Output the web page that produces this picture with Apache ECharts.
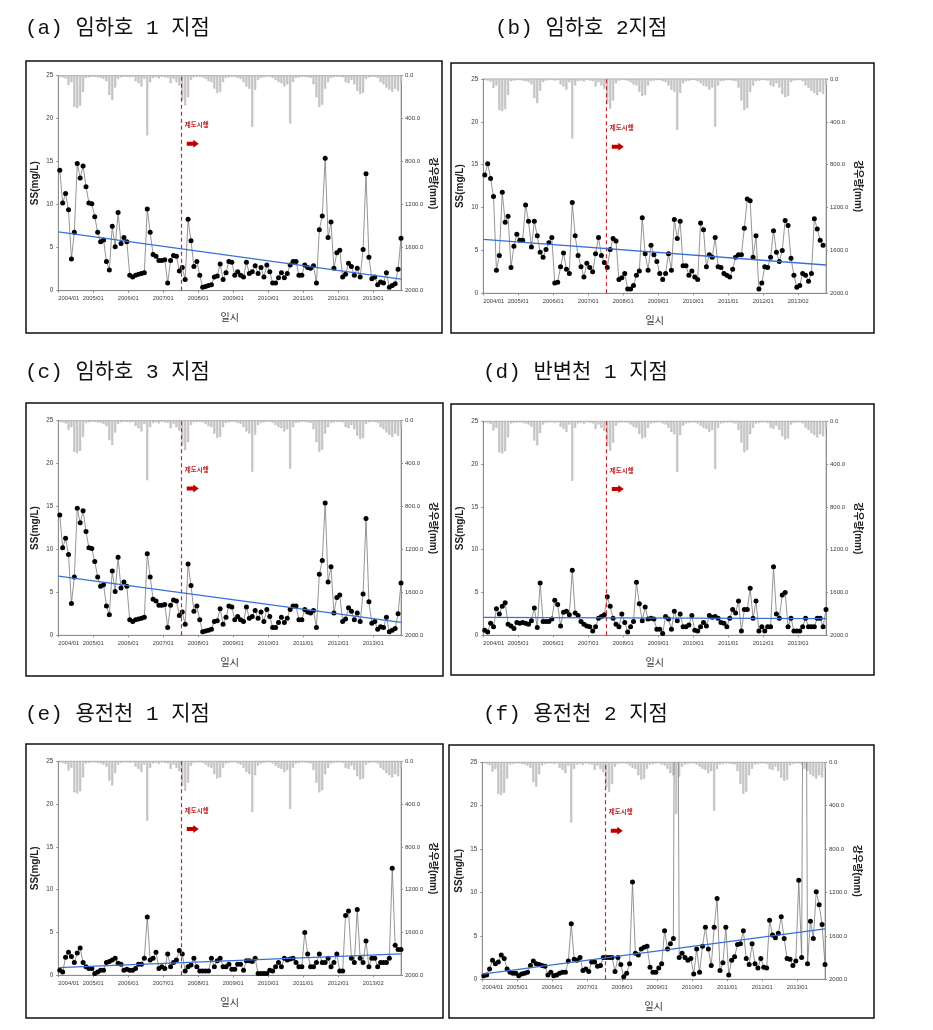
<!DOCTYPE html>
<html><head><meta charset="utf-8">
<script src="https://cdn.jsdelivr.net/npm/echarts@6/dist/echarts.min.js"></script>
<style>html,body{margin:0;padding:0;background:#fff}#c{width:933px;height:1030px}</style>
</head><body><div id="c"></div>
<script>
// ---------- tick labels ----------
const tickLabelsStd = ['2004/01','2005/01','2006/01','2007/01','2008/01','2009/01','2010/01','2011/01','2012/01','2013/01'];
const tickLabelsAlt = ['2004/01','2005/01','2006/01','2007/01','2008/01','2009/01','2010/01','2011/01','2012/01','2013/02'];
const rainTicks = [0, 400, 800, 1200, 1600, 2000];
const policyMonth = '2007/07';

// ---------- monthly rainfall (mm), 2004/01 .. 2013/10 ----------
const rainfall = [
  10, 15, 25, 85, 60, 290, 300, 280, 150, 20, 15, 10,
  10, 15, 20, 30, 50, 180, 225, 110, 30, 15, 10, 10,
  15, 10, 50, 70, 100, 30, 555, 60, 20, 15, 25, 10,
  15, 20, 70, 30, 60, 90, 230, 275, 200, 40, 15, 10,
  10, 15, 30, 50, 60, 120, 160, 150, 60, 20, 15, 10,
  10, 20, 30, 60, 100, 120, 475, 130, 40, 20, 15, 10,
  10, 20, 40, 60, 70, 100, 80, 445, 60, 20, 15, 10,
  10, 15, 20, 80, 200, 290, 270, 120, 60, 20, 15, 10,
  10, 15, 60, 70, 40, 80, 140, 170, 160, 30, 15, 10,
  10, 20, 60, 80, 110, 130, 150, 120, 140, 60
];

// ---------- SS (mg/L), monthly from 2004/01 ----------
const ssA = [
  14.0, 10.2, 11.3, 9.4, 3.7, 6.8, 14.8, 13.1, 14.5, 12.1, 10.2, 10.1,
  8.6, 6.8, 5.7, 5.9, 3.4, 2.4, 7.5, 5.1, 9.1, 5.5, 6.2, 5.7,
  1.8, 1.6, 1.8, 1.9, 2.0, 2.1, 9.5, 6.8, 4.2, 4.0, 3.5, 3.5,
  3.6, 0.9, 3.5, 4.1, 4.0, 2.3, 2.7, 1.3, 8.3, 5.8, 2.8, 3.4,
  1.8, 0.4, 0.5, 0.6, 0.7, 1.6, 1.7, 3.1, 1.3, 2.1, 3.4, 3.3,
  1.8, 2.2, 1.8, 1.6, 3.3, 2.0, 2.2, 2.9, 2.0, 2.7, 1.6, 3.0,
  2.2, 0.9, 0.9, 1.5, 2.1, 1.5, 2.0, 3.0, 3.4, 3.4, 1.8, 1.8,
  3.0, 2.7, 2.6, 2.9, 0.9, 7.1, 8.7, 15.4, 6.2, 8.0, 2.6, 4.4,
  4.7, 1.6, 1.9, 3.2, 2.8, 1.8, 2.6, 1.6, 4.8, 13.6, 3.9, 1.4,
  1.6, 0.7, 1.0, 0.9, 2.1, 0.4, 0.6, 0.8, 2.5, 6.1
];
const ssB = [
  13.8, 15.1, 13.4, 11.3, 2.7, 4.4, 11.8, 8.3, 9.0, 3.0, 5.5, 6.9,
  6.2, 6.2, 10.3, 8.4, 5.4, 8.4, 6.7, 4.8, 4.2, 5.1, 5.9, 6.5,
  1.2, 1.3, 3.1, 4.7, 2.8, 2.3, 10.6, 6.7, 4.4, 3.1, 1.9, 3.5,
  3.0, 2.5, 4.6, 6.5, 4.4, 3.6, 3.0, 5.1, 6.4, 6.1, 1.6, 1.8,
  2.3, 0.5, 0.5, 0.9, 2.1, 2.6, 8.8, 4.6, 2.7, 5.6, 4.5, 3.7,
  2.3, 1.6, 2.3, 4.6, 2.7, 8.6, 6.4, 8.4, 3.2, 3.2, 2.1, 2.6,
  1.9, 1.6, 8.2, 7.4, 3.1, 4.5, 4.2, 6.5, 3.1, 3.0, 2.3, 2.1,
  1.9, 2.8, 4.2, 4.5, 4.5, 7.6, 11.0, 10.8, 4.2, 6.7, 0.5, 1.2,
  3.1, 3.0, 4.2, 7.3, 4.8, 3.7, 5.0, 8.5, 7.9, 4.1, 2.1, 0.7,
  0.9, 2.3, 2.1, 1.4, 2.3, 8.7, 7.5, 6.2, 5.6
];
const ssC = [
  14.0, 10.2, 11.3, 9.4, 3.7, 6.8, 14.8, 13.1, 14.5, 12.1, 10.2, 10.1,
  8.6, 6.8, 5.7, 5.9, 3.4, 2.4, 7.5, 5.1, 9.1, 5.5, 6.2, 5.7,
  1.8, 1.6, 1.8, 1.9, 2.0, 2.1, 9.5, 6.8, 4.2, 4.0, 3.5, 3.5,
  3.6, 0.9, 3.5, 4.1, 4.0, 2.3, 2.7, 1.3, 8.3, 5.8, 2.8, 3.4,
  1.8, 0.4, 0.5, 0.6, 0.7, 1.6, 1.7, 3.1, 1.3, 2.1, 3.4, 3.3,
  1.8, 2.2, 1.8, 1.6, 3.3, 2.0, 2.2, 2.9, 2.0, 2.7, 1.6, 3.0,
  2.2, 0.9, 0.9, 1.5, 2.1, 1.5, 2.0, 3.0, 3.4, 3.4, 1.8, 1.8,
  3.0, 2.7, 2.6, 2.9, 0.9, 7.1, 8.7, 15.4, 6.2, 8.0, 2.6, 4.4,
  4.7, 1.6, 1.9, 3.2, 2.8, 1.8, 2.6, 1.6, 4.8, 13.6, 3.9, 1.4,
  1.6, 0.7, 1.0, 0.9, 2.1, 0.4, 0.6, 0.8, 2.5, 6.1
];
const ssD = [
  0.6, 0.4, 1.4, 1.0, 3.1, 2.5, 3.4, 3.8, 1.3, 1.1, 0.8, 1.5,
  1.4, 1.5, 1.4, 1.3, 1.7, 3.2, 0.9, 6.1, 1.6, 1.6, 1.6, 1.9,
  4.1, 3.6, 1.1, 2.7, 2.8, 2.4, 7.6, 2.6, 2.3, 1.6, 1.3, 1.1,
  1.0, 0.5, 1.0, 2.0, 2.2, 2.4, 4.5, 3.4, 2.0, 1.3, 1.0, 2.5,
  1.5, 0.4, 1.0, 1.6, 6.2, 3.7, 1.7, 3.3, 1.9, 2.0, 1.9, 0.7,
  0.7, 0.2, 2.2, 1.9, 0.7, 2.8, 1.7, 2.5, 1.0, 1.0, 1.2, 2.3,
  0.6, 0.5, 1.0, 1.5, 1.1, 2.3, 2.1, 2.2, 2.0, 1.5, 1.4, 1.0,
  2.0, 3.0, 2.6, 4.0, 0.5, 3.0, 3.0, 5.5, 2.0, 4.0, 0.5, 1.0,
  0.5, 1.0, 1.0, 8.0, 2.5, 2.0, 4.7, 5.0, 1.0, 2.0, 0.5, 0.5,
  0.5, 1.0, 2.0, 1.0, 1.0, 1.0, 2.0, 2.0, 1.0, 3.0
];
const ssE = [
  0.6, 0.4, 2.1, 2.7, 2.2, 1.5, 2.6, 3.2, 1.5, 1.0, 0.8, 0.8,
  0.2, 0.4, 0.6, 0.6, 1.5, 1.6, 1.8, 2.0, 1.4, 1.3, 0.6, 0.7,
  0.6, 0.6, 0.8, 1.3, 1.3, 2.0, 6.8, 1.8, 2.0, 2.7, 0.8, 1.0,
  0.8, 2.5, 1.0, 1.5, 1.8, 2.9, 2.5, 0.5, 1.0, 1.2, 2.0, 1.0,
  0.5, 0.5, 0.5, 0.5, 2.0, 1.0, 1.7, 2.0, 1.0, 1.0, 1.3, 0.7,
  0.7, 1.3, 1.3, 0.6, 1.7, 1.7, 1.6, 2.0, 0.2, 0.2, 0.2, 0.2,
  0.6, 0.5, 1.0, 1.5, 1.0, 2.0, 1.8, 1.9, 2.0, 1.5, 1.0, 1.0,
  5.0, 2.5, 1.0, 1.0, 1.5, 2.5, 1.5, 1.5, 2.0, 1.0, 1.5, 2.5,
  0.5, 0.5, 7.0, 7.5, 2.0, 1.5, 7.7, 2.0, 1.5, 4.0, 1.0, 2.0,
  2.0, 1.0, 1.5, 1.5, 1.5, 2.0, 12.5, 3.5, 3.0, 3.0
];
const ssF = [
  0.4, 0.5, 1.2, 2.2, 1.8, 2.0, 2.8, 2.4, 1.2, 0.8, 0.7, 0.7,
  0.4, 0.6, 0.7, 0.8, 1.6, 2.1, 1.8, 1.7, 1.6, 1.5, 0.5, 0.8,
  0.4, 0.5, 0.7, 0.8, 0.8, 2.1, 6.4, 2.3, 2.2, 2.5, 1.0, 1.2,
  0.9, 2.0, 2.0, 1.5, 1.6, 2.5, 2.5, 2.5, 2.5, 0.9, 2.5, 1.7,
  0.3, 0.7, 1.8, 11.2, 3.0, 2.8, 3.5, 3.7, 3.8, 1.4, 0.8, 0.8,
  1.3, 1.8, 5.6, 3.5, 4.1, 4.7, 80, 2.5, 3.0, 2.5, 2.2, 2.4,
  0.6, 3.5, 0.8, 3.8, 6.0, 3.5, 1.6, 6.0, 9.3, 1.0, 1.9, 6.0,
  0.5, 2.2, 2.6, 4.0, 4.1, 5.6, 2.4, 1.7, 4.1, 1.8, 1.3, 2.4,
  1.4, 1.3, 6.8, 5.1, 4.8, 5.3, 7.2, 4.7, 2.4, 2.3, 1.6, 2.1,
  11.4, 2.5, 80, 1.8, 6.7, 4.7, 10.1, 8.6, 6.3, 1.7
];

// ---------- trend lines: [value at axis start, value at axis end] ----------
const trendA = [6.85, 1.35];
const trendB = [6.3, 3.3];
const trendC = [6.9, 1.5];
const trendD = [2.1, 1.95];
const trendE = [0.9, 2.5];
const trendF = [0.6, 5.8];

const titles = ['(a) 임하호 1 지점', '(b) 임하호 2지점', '(c) 임하호 3 지점', '(d) 반변천 1 지점', '(e) 용전천 1 지점', '(f) 용전천 2 지점'];

// ---------- layout ----------
const AXIS_MONTHS = 117.5;
const layout = [
  {tx: 25,  ty: 28,  frame: [26, 61, 416, 272],   grid: [58.3, 75.7, 342.7, 215.0]},
  {tx: 495, ty: 28,  frame: [451, 63, 423, 270],  grid: [483.3, 79.0, 342.7, 214.3]},
  {tx: 25,  ty: 372, frame: [26, 403, 417, 273],  grid: [58.3, 420.7, 342.7, 214.6]},
  {tx: 483, ty: 372, frame: [451, 404, 423, 271], grid: [483.3, 421.3, 342.7, 214.0]},
  {tx: 25,  ty: 714, frame: [26, 744, 417, 274],  grid: [58.3, 761.3, 342.7, 214.0]},
  {tx: 483, ty: 714, frame: [449, 745, 425, 273], grid: [482.3, 762.3, 342.7, 217.0]}
];
const panelData = [
  {ss: ssA, trend: trendA, ticks: tickLabelsStd},
  {ss: ssB, trend: trendB, ticks: tickLabelsAlt},
  {ss: ssC, trend: trendC, ticks: tickLabelsStd},
  {ss: ssD, trend: trendD, ticks: tickLabelsStd},
  {ss: ssE, trend: trendE, ticks: tickLabelsAlt},
  {ss: ssF, trend: trendF, ticks: tickLabelsStd}
];

const [py, pm] = policyMonth.split('/').map(Number);
const policyX = (py - 2004) * 12 + (pm - 1);

const FONT = "'Liberation Sans', 'Noto Sans CJK KR', sans-serif";
const axisGray = '#8c8c8c';
const labelGray = '#3a3a3a';

const grids = [], xAxes = [], yAxes = [], series = [], graphics = [];
layout.forEach((L, k) => {
  const P = panelData[k];
  grids.push({left: L.grid[0], top: L.grid[1], width: L.grid[2], height: L.grid[3],
    containLabel: false, outerBoundsMode: 'none', show: true, borderColor: '#a0a0a0', borderWidth: 0.8, backgroundColor: 'transparent'});
  xAxes.push({
    gridIndex: k, type: 'value', min: 0, max: AXIS_MONTHS, interval: 12,
    axisLine: {show: true, onZero: false, lineStyle: {color: axisGray, width: 1}},
    axisTick: {show: true, length: 2, lineStyle: {color: axisGray}},
    splitLine: {show: false},
    axisLabel: {fontSize: 5.8, color: labelGray, margin: 5, fontFamily: FONT, showMaxLabel: false, alignMinLabel: 'left',
      formatter: v => (v % 12 === 0 && P.ticks[v / 12] !== undefined) ? P.ticks[v / 12] : ''},
    name: '일시', nameLocation: 'middle', nameGap: 22,
    nameTextStyle: {fontSize: 10, color: '#333', fontFamily: "'Noto Sans CJK KR', sans-serif"}
  });
  yAxes.push({
    gridIndex: k, type: 'value', min: 0, max: 25, interval: 5, position: 'left',
    axisLine: {show: true, lineStyle: {color: axisGray}},
    axisTick: {show: true, length: 2, lineStyle: {color: axisGray}},
    splitLine: {show: false},
    axisLabel: {fontSize: 6.3, color: labelGray, margin: 5, fontFamily: FONT},
    name: 'SS(mg/L)', nameLocation: 'middle', nameGap: 18, nameRotate: 90,
    nameTextStyle: {fontSize: 10, fontWeight: 'bold', color: '#222', fontFamily: FONT}
  });
  yAxes.push({
    gridIndex: k, type: 'value', min: rainTicks[0], max: rainTicks[rainTicks.length - 1], interval: rainTicks[1] - rainTicks[0],
    inverse: true, position: 'right',
    axisLine: {show: true, lineStyle: {color: axisGray}},
    axisTick: {show: true, length: 2, lineStyle: {color: axisGray}},
    splitLine: {show: false},
    axisLabel: {fontSize: 6.0, color: labelGray, margin: 4, fontFamily: FONT, formatter: v => v.toFixed(1)},
    name: '강우량(mm)', nameLocation: 'middle', nameGap: 22, nameRotate: -90,
    nameTextStyle: {fontSize: 10, fontWeight: 'bold', color: '#222', fontFamily: FONT}
  });
  series.push({
    type: 'bar', xAxisIndex: k, yAxisIndex: 2 * k + 1, silent: true, z: 1,
    data: rainfall.map((v, i) => [i + 0.5, v]),
    barWidth: 2,
    itemStyle: {color: '#cdcdcd', borderColor: '#a4a4a4', borderWidth: 0.4}
  });
  series.push({
    type: 'line', xAxisIndex: k, yAxisIndex: 2 * k, z: 4, clip: true,
    data: P.ss.map((v, i) => [i + 0.5, v]),
    symbol: 'circle', symbolSize: 5, showAllSymbol: true,
    itemStyle: {color: '#000'},
    lineStyle: {color: '#7a7a7a', width: 0.8},
    markLine: {silent: true, symbol: ['none', 'none'], animation: false,
      lineStyle: {color: '#c0282d', type: [4, 3], width: 1.2},
      label: {show: false}, data: [{xAxis: policyX}]},
    markPoint: {silent: true, animation: false, data: [
      {coord: [policyX + 1.2, 19.3], symbol: 'circle', symbolSize: 1, itemStyle: {color: 'rgba(0,0,0,0)'},
        label: {show: true, position: 'right', distance: 0, formatter: '제도시행', color: '#c0282d', fontSize: 6.5, fontWeight: 'bold',
          fontFamily: "'Noto Sans CJK KR', sans-serif"}},
      {coord: [policyX + 4.1, 17.1], symbol: 'path://M0,2 L6,2 L6,0 L11,4 L6,8 L6,6 L0,6 Z', symbolSize: [12, 8],
        itemStyle: {color: '#c00000'}, label: {show: false}}
    ]}
  });
  series.push({
    type: 'line', xAxisIndex: k, yAxisIndex: 2 * k, z: 5, silent: true,
    data: [[0, P.trend[0]], [AXIS_MONTHS, P.trend[1]]],
    symbol: 'none', lineStyle: {color: '#3a6fd8', width: 1.3}
  });
  graphics.push({type: 'rect', silent: true, z: 0,
    shape: {x: L.frame[0], y: L.frame[1], width: L.frame[2], height: L.frame[3]},
    style: {fill: 'none', stroke: '#111', lineWidth: 1.5}});
  graphics.push({type: 'text', silent: true, x: L.tx, y: L.ty,
    style: {text: titles[k], fontSize: 21, fontFamily: "'Liberation Mono', 'Noto Sans CJK KR', monospace", fill: '#111', verticalAlign: 'middle'}});
});

const chart = echarts.init(document.getElementById('c'), null, {renderer: 'canvas'});
chart.setOption({
  animation: false,
  backgroundColor: '#fff',
  textStyle: {fontFamily: FONT},
  grid: grids, xAxis: xAxes, yAxis: yAxes, series: series, graphic: graphics
});
</script>
</body></html>
